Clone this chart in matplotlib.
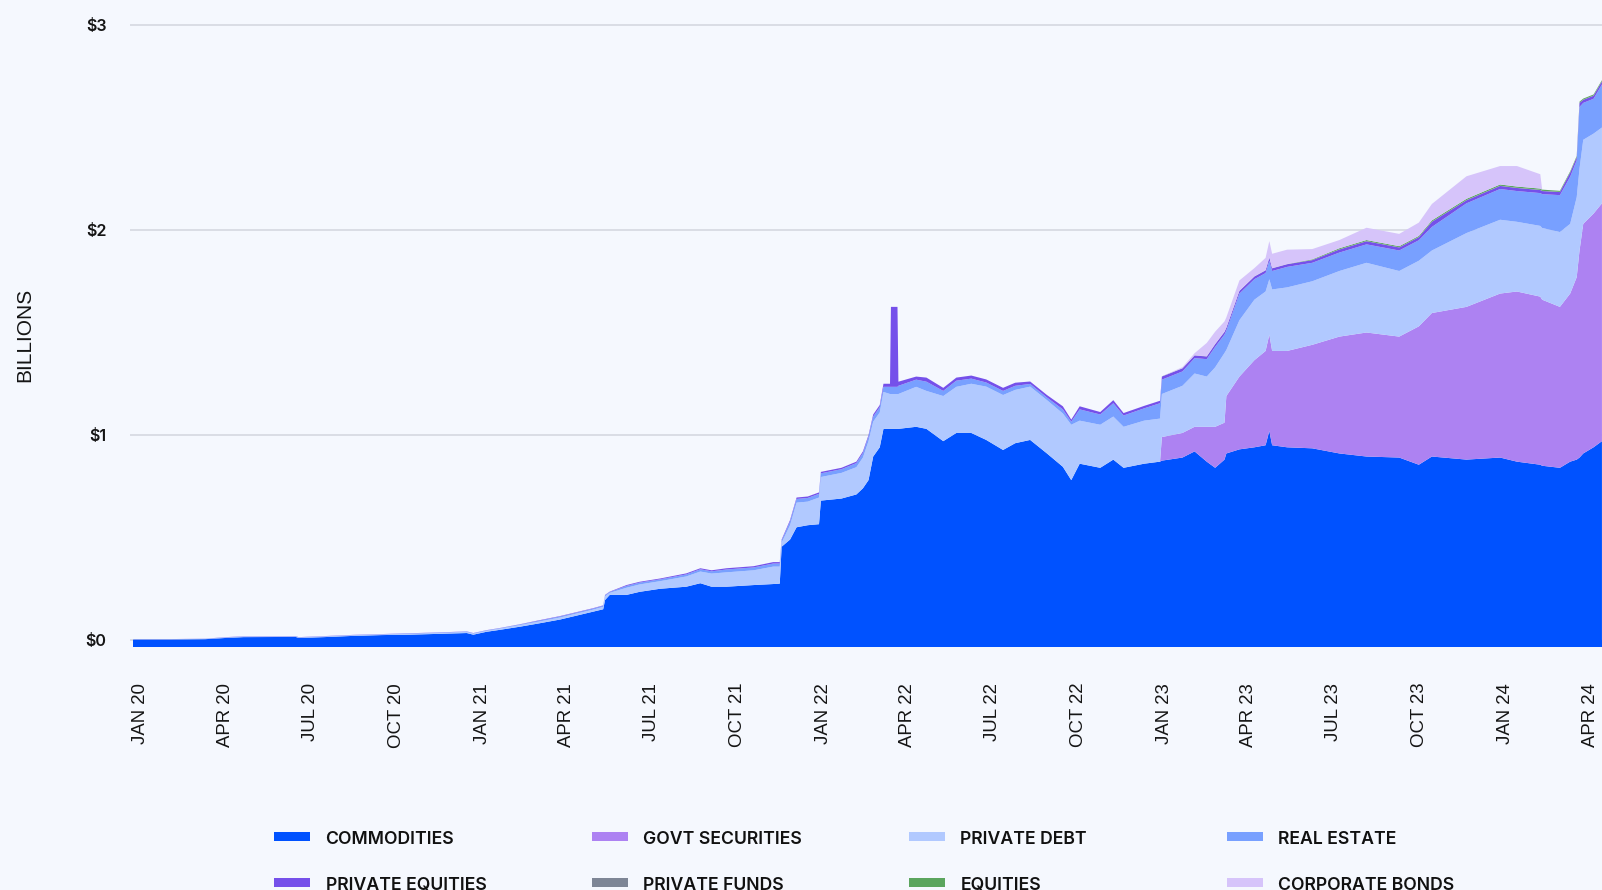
import numpy as np
import pandas as pd
import matplotlib
matplotlib.use("Agg")
import matplotlib.pyplot as plt
import matplotlib.dates as mdates
from matplotlib.patches import Rectangle
from matplotlib.ticker import FuncFormatter

# data (billions, stacked thickness per layer)
dates = ["2019-12-24", "2020-02-01", "2020-03-10", "2020-04-01", "2020-04-20", "2020-06-15",
         "2020-06-18", "2020-07-15", "2020-08-15", "2020-09-15", "2020-10-15", "2020-11-15",
         "2020-12-15", "2020-12-22", "2021-01-05", "2021-01-20", "2021-02-10", "2021-03-01",
         "2021-03-25", "2021-04-29", "2021-05-10", "2021-05-12", "2021-05-17", "2021-06-04",
         "2021-06-18", "2021-07-10", "2021-08-07", "2021-08-22", "2021-09-03", "2021-09-19",
         "2021-10-18", "2021-11-08", "2021-11-15", "2021-11-17", "2021-11-26", "2021-12-03",
         "2021-12-15", "2021-12-27", "2021-12-29", "2022-01-20", "2022-02-05", "2022-02-12",
         "2022-02-18", "2022-02-23", "2022-03-02", "2022-03-06", "2022-03-13", "2022-03-14",
         "2022-03-21", "2022-03-22", "2022-04-10", "2022-04-21", "2022-05-09", "2022-05-23",
         "2022-06-08", "2022-06-24", "2022-07-12", "2022-07-25", "2022-08-10", "2022-08-28",
         "2022-09-14", "2022-09-23", "2022-10-02", "2022-10-24", "2022-11-07", "2022-11-18",
         "2022-12-10", "2022-12-27", "2022-12-29", "2023-01-20", "2023-02-02", "2023-02-15",
         "2023-02-24", "2023-03-06", "2023-03-08", "2023-03-22", "2023-04-07", "2023-04-19",
         "2023-04-23", "2023-04-26", "2023-05-12", "2023-06-08", "2023-07-07", "2023-08-05",
         "2023-09-09", "2023-09-30", "2023-10-14", "2023-11-20", "2023-12-26", "2024-01-13",
         "2024-02-07", "2024-02-09", "2024-02-28", "2024-03-10", "2024-03-17", "2024-03-20",
         "2024-03-24", "2024-04-04", "2024-04-13"]

commodities = [0.002, 0.002, 0.004, 0.010, 0.014, 0.015, 0.010, 0.014, 0.020, 0.024, 0.026, 0.030,
               0.034, 0.026, 0.040, 0.050, 0.065, 0.080, 0.100, 0.138, 0.150, 0.195, 0.220, 0.220,
               0.235, 0.250, 0.260, 0.277, 0.260, 0.260, 0.268, 0.273, 0.275, 0.455, 0.490, 0.550,
               0.560, 0.565, 0.680, 0.690, 0.710, 0.740, 0.780, 0.895, 0.940, 1.030, 1.030, 1.030,
               1.030, 1.030, 1.040, 1.030, 0.970, 1.010, 1.010, 0.976, 0.927, 0.960, 0.976, 0.910,
               0.845, 0.780, 0.860, 0.840, 0.880, 0.840, 0.860, 0.870,
               0.875, 0.890, 0.920, 0.870, 0.840, 0.880, 0.910, 0.930, 0.940, 0.950, 1.020, 0.950,
               0.940, 0.935, 0.910, 0.895, 0.890, 0.855, 0.895, 0.880, 0.890, 0.870, 0.855, 0.850,
               0.840, 0.870, 0.880, 0.890, 0.910, 0.940, 0.970]

govt_securities = [0] * 68 + [0.115, 0.120, 0.120, 0.170, 0.200, 0.180, 0.280, 0.355, 0.425, 0.460,
                              0.470, 0.460, 0.470, 0.505, 0.570, 0.605, 0.590, 0.675, 0.700, 0.745,
                              0.800, 0.830, 0.820, 0.810, 0.785, 0.820, 0.890, 1.010, 1.120, 1.140,
                              1.160]

private_debt = [0.001, 0.001, 0.001, 0.002, 0.002, 0.002, 0.002, 0.003, 0.003, 0.003, 0.004, 0.004,
                0.005, 0.005, 0.005, 0.006, 0.008, 0.009, 0.010, 0.010, 0.012, 0.018, 0.010, 0.035,
                0.036, 0.037, 0.050, 0.057, 0.064, 0.070, 0.072, 0.085, 0.083, 0.020, 0.070, 0.120,
                0.115, 0.130, 0.115, 0.125, 0.133, 0.150, 0.190, 0.170, 0.170, 0.180, 0.170, 0.170,
                0.170, 0.170, 0.195, 0.185, 0.220, 0.225, 0.240, 0.260, 0.268, 0.260, 0.260, 0.260,
                0.260, 0.270, 0.210, 0.210, 0.210, 0.200, 0.210, 0.210,
                0.210, 0.230, 0.260, 0.245, 0.290, 0.340, 0.225, 0.275, 0.295, 0.290, 0.270, 0.300,
                0.310, 0.310, 0.320, 0.340, 0.320, 0.320, 0.305, 0.360, 0.360, 0.340, 0.345, 0.350,
                0.365, 0.340, 0.390, 0.400, 0.410, 0.390, 0.370]

real_estate = [0.001, 0.001, 0.001, 0.001, 0.001, 0.001, 0.001, 0.001, 0.001, 0.001, 0.002, 0.002,
               0.002, 0.002, 0.002, 0.002, 0.003, 0.004, 0.005, 0.005, 0.005, 0.005, 0.004, 0.009,
               0.009, 0.009, 0.010, 0.011, 0.011, 0.014, 0.014, 0.015, 0.015, 0.010, 0.018, 0.018,
               0.018, 0.018, 0.018, 0.018, 0.020, 0.022, 0.022, 0.025, 0.026, 0.025, 0.035, 0.035,
               0.035, 0.040, 0.035, 0.045, 0.025, 0.030, 0.025, 0.020, 0.020, 0.020, 0.013, 0.013,
               0.020, 0.015, 0.055, 0.050, 0.065, 0.055, 0.060, 0.075,
               0.070, 0.070, 0.075, 0.085, 0.100, 0.090, 0.095, 0.130, 0.100, 0.090, 0.090, 0.090,
               0.100, 0.090, 0.090, 0.090, 0.100, 0.100, 0.115, 0.145, 0.150, 0.150, 0.160, 0.165,
               0.180, 0.230, 0.180, 0.300, 0.180, 0.170, 0.210]

private_equities = [0.0005, 0.0005, 0.0005, 0.001, 0.001, 0.001, 0.001, 0.001, 0.001, 0.001, 0.001, 0.001,
                    0.001, 0.001, 0.001, 0.001, 0.001, 0.002, 0.002, 0.002, 0.002, 0.002, 0.002, 0.004,
                    0.004, 0.004, 0.005, 0.005, 0.005, 0.006, 0.006, 0.007, 0.007, 0.005, 0.007, 0.007,
                    0.007, 0.007, 0.007, 0.007, 0.007, 0.008, 0.008, 0.010, 0.010, 0.015, 0.015, 0.390,
                    0.390, 0.020, 0.015, 0.020, 0.015, 0.015, 0.015, 0.015, 0.015, 0.015, 0.012, 0.012,
                    0.015, 0.010, 0.015, 0.012, 0.015, 0.012, 0.012, 0.012,
                    0.015, 0.015, 0.013, 0.013, 0.013, 0.013, 0.013, 0.013, 0.013, 0.013, 0.015, 0.013,
                    0.013, 0.013, 0.015, 0.015, 0.015, 0.015, 0.025, 0.015, 0.015, 0.015, 0.015, 0.015,
                    0.015, 0.020, 0.015, 0.020, 0.015, 0.015, 0.015]

private_funds = [0] * 68 + [0.001] * 31

equities = [0] * 81 + [0.003, 0.005, 0.005, 0.005, 0.005, 0.006, 0.006, 0.006, 0.006, 0.006,
                       0.006, 0.005, 0.005, 0.005, 0.005, 0.005, 0.005, 0.005]

corporate_bonds = [0] * 69 + [0.005, 0.010, 0.065, 0.060, 0.050, 0.050, 0.050, 0.040, 0.060, 0.080,
                              0.070, 0.070, 0.050, 0.040, 0.060, 0.060, 0.065, 0.080, 0.110, 0.090,
                              0.100, 0.070, 0, 0, 0, 0, 0, 0, 0, 0]

labels = ["COMMODITIES", "GOVT SECURITIES", "PRIVATE DEBT", "REAL ESTATE",
          "PRIVATE EQUITIES", "PRIVATE FUNDS", "EQUITIES", "CORPORATE BONDS"]
colors = ["#0052FF", "#AD82F2", "#B1C9FF", "#78A0FF", "#7550EA", "#7E8696", "#5BA55E", "#D6C4FA"]

series = [commodities, govt_securities, private_debt, real_estate,
          private_equities, private_funds, equities, corporate_bonds]

bg = "#F5F8FE"
W, H = 1602, 890
fig = plt.figure(figsize=(W / 100, H / 100), dpi=100, facecolor=bg)

# axes box in pixels: left 130, right 1602, top 0, bottom 646.7
ax = fig.add_axes([130 / W, (H - 646.7) / H, 1472 / W, 646.7 / H])
ax.set_facecolor(bg)

x = pd.to_datetime(dates)
ylo = -6.7 / 205
ax.fill_between(x, ylo, 0, color=colors[0], linewidth=0)
ax.stackplot(x, *series, colors=colors, labels=labels, linewidth=0, antialiased=True)

jan20 = mdates.date2num(pd.Timestamp("2020-01-01"))
ax.set_xlim(jan20 - 10.7 / 0.9343, jan20 + (1602 - 140.7) / 0.9343)
ax.set_ylim(ylo, 3 + 25 / 205)

ax.xaxis.set_major_locator(mdates.MonthLocator(bymonth=[1, 4, 7, 10]))
ax.xaxis.set_major_formatter(FuncFormatter(lambda v, p: mdates.num2date(v).strftime("%b %y").upper()))
ax.set_yticks([0, 1, 2, 3])
ax.yaxis.set_major_formatter(FuncFormatter(lambda v, p: "$%d" % v))

ax.tick_params(axis="x", length=0, pad=26, labelrotation=90, labelsize=13.4,
               labelcolor="#151515")
ax.tick_params(axis="y", length=0, pad=17, labelsize=11.6, labelcolor="#151515")
for t in ax.get_xticklabels():
    t.set_family(["Liberation Sans", "DejaVu Sans"])
for t in ax.get_yticklabels():
    t.set_family(["Inter", "DejaVu Sans"])
    t.set_weight("semibold")

ax.grid(axis="y", color="#D2D5DE", linewidth=1.1)
ax.grid(axis="x", visible=False)
ax.set_axisbelow(True)
for s in ax.spines.values():
    s.set_visible(False)

fig.text(25 / W, 1 - 335 / H, "BILLIONS", rotation=90, ha="center", va="center",
         fontsize=15, color="#151515", family=["Liberation Sans", "DejaVu Sans"])

# legend, 4 columns x 2 rows (second row runs off the bottom edge, as in the source)
col_x = [274, 591.5, 909, 1226.5]
row_y = [836.5, 882.5]
for i, (name, c) in enumerate(zip(labels, colors)):
    cx = col_x[i % 4]
    cy = row_y[i // 4]
    fig.add_artist(Rectangle((cx / W, 1 - (cy + 4.2) / H), 36 / W, 8.4 / H,
                             transform=fig.transFigure, color=c, linewidth=0))
    fig.text((cx + 51.5) / W, 1 - (cy + 7.3) / H, name, ha="left", va="baseline",
             fontsize=12.7, weight="semibold", color="#111111",
             family=["Inter", "DejaVu Sans"])

fig.savefig("out.png", dpi=100, facecolor=bg)
